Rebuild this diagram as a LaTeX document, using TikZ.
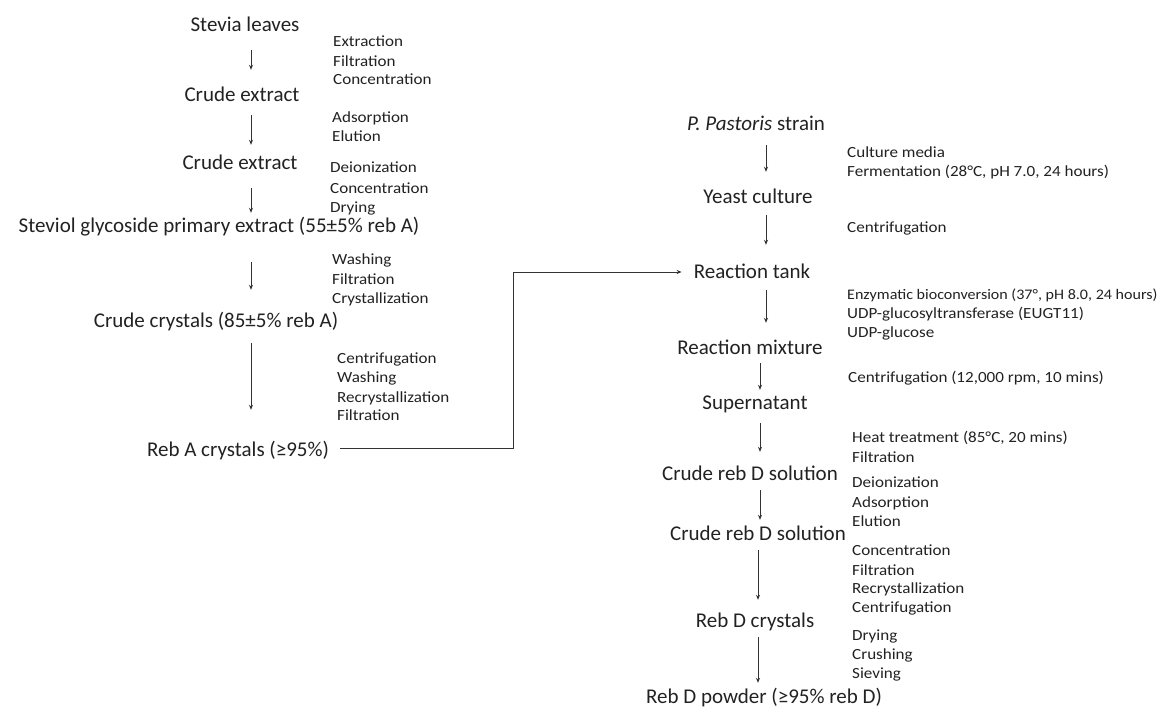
\documentclass[tikz,border=0pt]{standalone}
\usepackage{fontspec}
\setmainfont{Carlito}
\newfontfamily\smallfnt[FakeStretch=1.1]{Carlito}
\usetikzlibrary{arrows.meta}
\definecolor{ink}{HTML}{222222}
\definecolor{lineink}{HTML}{333333}
\begin{document}
\begin{tikzpicture}[x=1pt,y=-1pt,
  main/.style={font=\fontsize{21}{25}\selectfont, text=ink, inner sep=0pt, text height=15pt, text depth=5pt, anchor=base},
  lbl/.style={font=\smallfnt\fontsize{15.5}{19}\selectfont, text=ink, inner sep=0pt, anchor=base west},
  arr/.style={draw=lineink, line width=0.9pt, -{Stealth[length=5pt,width=4pt]}}]
\fill[white] (0,0) rectangle (1174,708);
\useasboundingbox (0,0) rectangle (1174,708);
% arrow columns
\coordinate (cl) at (251,0);
\coordinate (cr1) at (766,0);
\coordinate (cr2) at (760,0);
\coordinate (cr3) at (758,0);
\coordinate (jn) at (513,0);
% left column main
\node[main] (stevia) at (245,32) {Stevia leaves};
\node[main] (crude1) at (242,102) {Crude extract};
\node[main] (crude2) at (240,170) {Crude extract};
\node[main] (steviol) at (219,233) {Steviol glycoside primary extract (55±5\% reb A)};
\node[main] (crudecr) at (216,327) {Crude crystals (85±5\% reb A)};
\node[main] (rebA) at (238,456) {Reb A crystals (≥95\%)};
% left labels
\node[lbl] (l1a) at (333,47) {Extraction};
\node[lbl] (l1b) at (333,67) {Filtration};
\node[lbl] (l1c) at (333,85) {Concentration};
\node[lbl] (l2a) at (332,123) {Adsorption};
\node[lbl] (l2b) at (332,142) {Elution};
\node[lbl] (l3a) at (330,173) {Deionization};
\node[lbl] (l3b) at (330,194) {Concentration};
\node[lbl] (l3c) at (330,213) {Drying};
\node[lbl] (l4a) at (332,265) {Washing};
\node[lbl] (l4b) at (332,285) {Filtration};
\node[lbl] (l4c) at (332,303) {Crystallization};
\node[lbl] (l5a) at (337,363) {Centrifugation};
\node[lbl] (l5b) at (337,382) {Washing};
\node[lbl] (l5c) at (337,402) {Recrystallization};
\node[lbl] (l5d) at (337,420) {Filtration};
% left arrows
\draw[arr, shorten <=13pt, shorten >=17pt] (stevia.south -| cl) -- (crude1.north -| cl);
\draw[arr, shorten <=8pt, shorten >=10pt] (crude1.south -| cl) -- (crude2.north -| cl);
\draw[arr, shorten <=13pt, shorten >=5pt] (crude2.south -| cl) -- (steviol.north -| cl);
\draw[arr, shorten <=24pt, shorten >=22pt] (steviol.south -| cl) -- (crudecr.north -| cl);
\draw[arr, shorten <=11pt, shorten >=31pt] (crudecr.south -| cl) -- (rebA.north -| cl);
% right column main
\node[main] (pastoris) at (756,131) {\textit{P. Pastoris} strain};
\node[main] (yeast) at (758,204) {Yeast culture};
\node[main] (tank) at (752,279) {Reaction tank};
\node[main] (mixture) at (750,354) {Reaction mixture};
\node[main] (super) at (755,409) {Supernatant};
\node[main] (crudeD1) at (750,480) {Crude reb D solution};
\node[main] (crudeD2) at (758,540) {Crude reb D solution};
\node[main] (rebDcr) at (755,627) {Reb D crystals};
\node[main] (powder) at (764,703) {Reb D powder (≥95\% reb D)};
% right labels
\node[lbl] (r1a) at (847,158) {Culture media};
\node[lbl] (r1b) at (847,177) {Fermentation (28°C, pH 7.0, 24 hours)};
\node[lbl] (r2a) at (847,233) {Centrifugation};
\node[lbl, font=\smallfnt\fontsize{14.6}{19}\selectfont] (r3a) at (847,299) {Enzymatic bioconversion (37°, pH 8.0, 24 hours)};
\node[lbl] (r3b) at (847,318) {UDP-glucosyltransferase (EUGT11)};
\node[lbl] (r3c) at (847,337) {UDP-glucose};
\node[lbl] (r4a) at (848,382) {Centrifugation (12,000 rpm, 10 mins)};
\node[lbl] (r5a) at (852,442) {Heat treatment (85°C, 20 mins)};
\node[lbl] (r5b) at (852,462) {Filtration};
\node[lbl] (r6a) at (852,487) {Deionization};
\node[lbl] (r6b) at (852,507) {Adsorption};
\node[lbl] (r6c) at (852,526) {Elution};
\node[lbl] (r7a) at (852,555) {Concentration};
\node[lbl] (r7b) at (852,575) {Filtration};
\node[lbl] (r7c) at (852,593) {Recrystallization};
\node[lbl] (r7d) at (852,612) {Centrifugation};
\node[lbl] (r8a) at (852,640) {Drying};
\node[lbl] (r8b) at (852,659) {Crushing};
\node[lbl] (r8c) at (852,678) {Sieving};
% right arrows
\draw[arr, shorten <=9pt, shorten >=17pt] (pastoris.south -| cr1) -- (yeast.north -| cr1);
\draw[arr, shorten <=6pt, shorten >=19pt] (yeast.south -| cr1) -- (tank.north -| cr1);
\draw[arr, shorten <=6pt, shorten >=16pt] (tank.south -| cr1) -- (mixture.north -| cr1);
\draw[arr, shorten <=4pt, shorten >=4pt] (mixture.south -| cr2) -- (super.north -| cr2);
\draw[arr, shorten <=9pt, shorten >=13pt] (super.south -| cr2) -- (crudeD1.north -| cr2);
\draw[arr, shorten <=5pt, shorten >=5pt] (crudeD1.south -| cr2) -- (crudeD2.north -| cr2);
\draw[arr, shorten <=5pt, shorten >=12pt] (crudeD2.south -| cr3) -- (rebDcr.north -| cr3);
\draw[arr, shorten <=5pt, shorten >=5pt] (rebDcr.south -| cr3) -- (powder.north -| cr3);
% link
\draw[arr, shorten <=11pt, shorten >=12pt] ([yshift=3pt]rebA.east) -- ([yshift=3pt]rebA.east -| jn) |- ([yshift=2pt]tank.west);
\end{tikzpicture}
\end{document}
